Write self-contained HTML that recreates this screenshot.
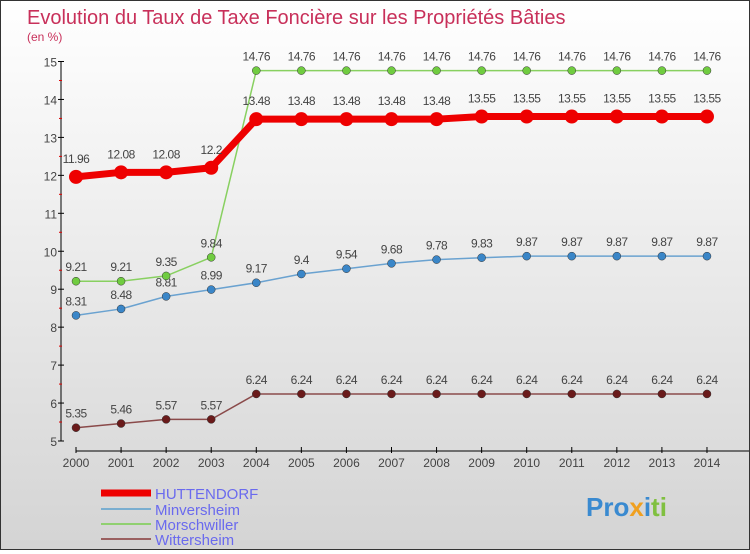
<!DOCTYPE html>
<html><head><meta charset="utf-8"><style>
body{margin:0;}
#wrap{width:750px;height:550px;position:relative;background:linear-gradient(#ffffff,#d4d4d4);box-sizing:border-box;border:1px solid #333;font-family:"Liberation Sans",sans-serif;}
</style></head><body>
<div id="wrap">
<svg id="c" width="748" height="548">
<text x="26" y="23" font-size="20" fill="#c8305a">Evolution du Taux de Taxe Foncière sur les Propriétés Bâties</text>
<text x="26" y="40" font-size="12" fill="#c8305a">(en %)</text>
<g id="axes"></g><g id="series"></g>
<g>
<line x1="100" y1="492" x2="150" y2="492" stroke="#ee0000" stroke-width="7"/>
<text x="154" y="498" font-size="15" fill="#6a6aee">HUTTENDORF</text>
<line x1="100" y1="508" x2="150" y2="508" stroke="#7aaed0" stroke-width="2"/>
<text x="154" y="514" font-size="15" fill="#6a6aee">Minversheim</text>
<line x1="100" y1="523" x2="150" y2="523" stroke="#90d070" stroke-width="2"/>
<text x="154" y="529" font-size="15" fill="#6a6aee">Morschwiller</text>
<line x1="100" y1="538" x2="150" y2="538" stroke="#9a6060" stroke-width="2"/>
<text x="154" y="544" font-size="15" fill="#6a6aee">Wittersheim</text>
</g>
<g><text x="585" y="515" font-size="26" font-weight="bold"><tspan fill="#3a8ad0">Pro</tspan><tspan fill="#f0a020">x</tspan><tspan fill="#3a8ad0">i</tspan><tspan fill="#80c040">ti</tspan></text></g>
</svg></div>
<script>
const years=[2000,2001,2002,2003,2004,2005,2006,2007,2008,2009,2010,2011,2012,2013,2014];
const huttendorf=[11.96,12.08,12.08,12.2,13.48,13.48,13.48,13.48,13.48,13.55,13.55,13.55,13.55,13.55,13.55];
const minversheim=[8.31,8.48,8.81,8.99,9.17,9.4,9.54,9.68,9.78,9.83,9.87,9.87,9.87,9.87,9.87];
const morschwiller=[9.21,9.21,9.35,9.84,14.76,14.76,14.76,14.76,14.76,14.76,14.76,14.76,14.76,14.76,14.76];
const wittersheim=[5.35,5.46,5.57,5.57,6.24,6.24,6.24,6.24,6.24,6.24,6.24,6.24,6.24,6.24,6.24];
const yTicks=[5,6,7,8,9,10,11,12,13,14,15];
const NS="http://www.w3.org/2000/svg";
const xS=i=>75+i*45.07;
const yS=v=>440-(v-5)*37.95;
function mk(t,a,p){const e=document.createElementNS(NS,t);for(const k in a)e.setAttribute(k,a[k]);p.appendChild(e);return e;}
const ax=document.getElementById('axes');
let e=mk('line',{x1:60,y1:yS(15),x2:60,y2:yS(5),stroke:'#000'},ax);


e=mk('line',{x1:75,y1:450,x2:748,y2:450,stroke:'#000'},ax);


yTicks.forEach(v=>{
 mk('line',{x1:57,y1:yS(v),x2:63,y2:yS(v),stroke:'#000'},ax);
 if(v<15) mk('line',{x1:58,y1:yS(v+0.5),x2:61,y2:yS(v+0.5),stroke:'#d00'},ax);
 const t=mk('text',{x:56,y:yS(v)+5,'font-size':12,'text-anchor':'end',fill:'#444'},ax);
 t.textContent=v;
 
 
});
years.forEach((y,i)=>{
 mk('line',{x1:xS(i),y1:446,x2:xS(i),y2:452,stroke:'#000'},ax);
 const t=mk('text',{x:xS(i),y:466,'font-size':12,'text-anchor':'middle',fill:'#444'},ax);
 t.textContent=y;
 
 
});
const sg=document.getElementById('series');
function draw(name,vals,color,w,r,dot,labelOffset){
 const g=mk('g',{},sg);
 
 
 const l=mk('polyline',{points:vals.map((v,i)=>xS(i)+','+yS(v)).join(' '),fill:'none',stroke:color,'stroke-width':w},g);
 
 
 vals.forEach((v,i)=>{
  const c=mk('circle',{cx:xS(i),cy:yS(v),r:r,fill:dot,stroke:'#333','stroke-width':r>5?0:0.5},g);
  
  
  const t=mk('text',{x:xS(i),y:yS(v)+labelOffset,'font-size':12,'text-anchor':'middle',fill:'#444','letter-spacing':'-0.5'},g);
  t.textContent=String(v);
  
  
 });
}
draw('wittersheim',wittersheim,'#8a4a4a',1.5,4,'#6a1a1a',-10);
draw('minversheim',minversheim,'#6aa2d0',1.5,4,'#3a86c8',-10);
draw('morschwiller',morschwiller,'#88d060',1.5,4,'#70cc40',-10);
draw('huttendorf',huttendorf,'#ee0000',7,7,'#ee0000',-14);
</script>
</body></html>
